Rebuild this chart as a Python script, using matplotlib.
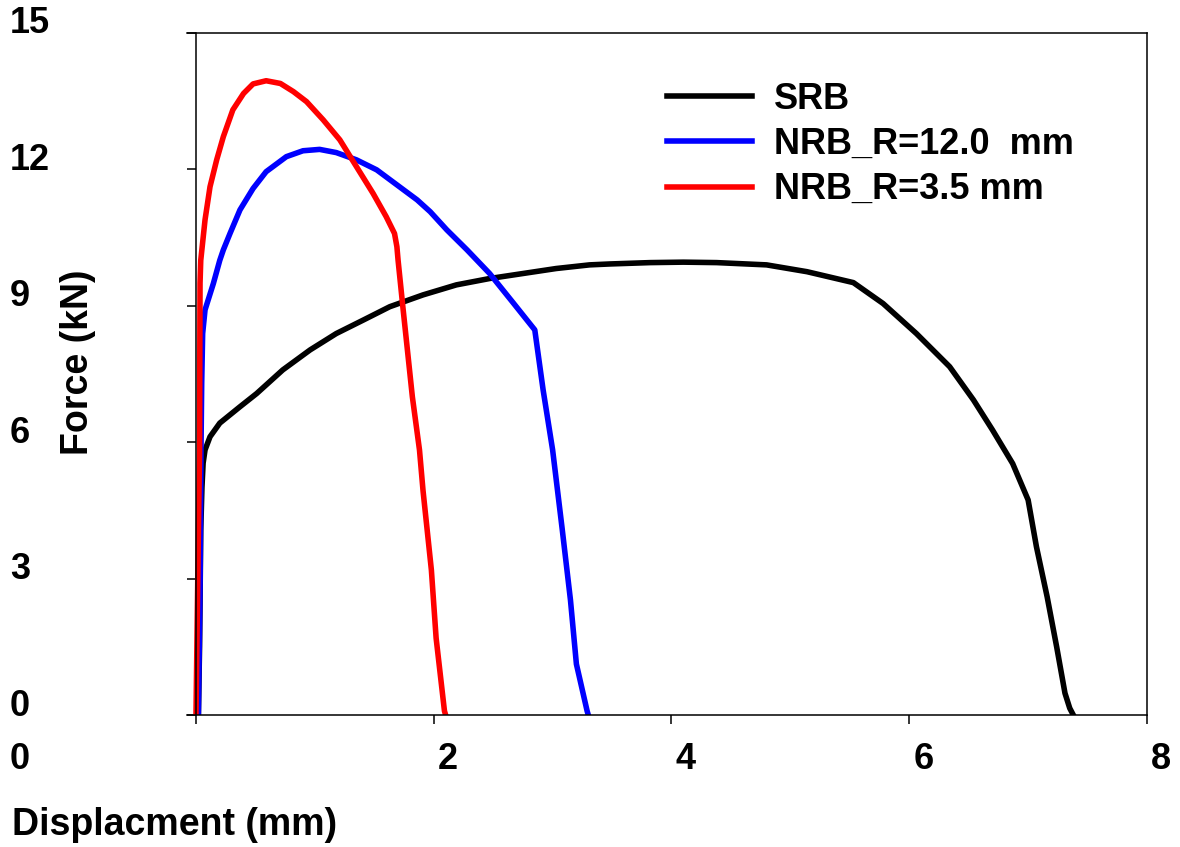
import matplotlib
matplotlib.use('Agg')
import matplotlib.pyplot as plt
import matplotlib.transforms as mtrans

plt.rcParams['font.family'] = ['Liberation Sans', 'DejaVu Sans']
plt.rcParams['font.weight'] = 'bold'

# SRB (smooth round bar)
srb_x = [0.02, 0.03, 0.04, 0.05, 0.06, 0.076, 0.118, 0.20, 0.37, 0.51, 0.73, 0.96, 1.18,
         1.41, 1.63, 1.91, 2.19, 2.47, 2.75, 3.03, 3.31, 3.48, 3.82, 4.10, 4.38, 4.80, 5.14,
         5.53, 5.78, 6.06, 6.34, 6.54, 6.70, 6.87, 7.0, 7.07, 7.16, 7.24, 7.31, 7.35, 7.38]
srb_y = [0.0, 1.5, 4.07, 5.0, 5.54, 5.83, 6.12, 6.42, 6.78, 7.07, 7.59, 8.03, 8.39,
         8.69, 8.98, 9.24, 9.46, 9.60, 9.71, 9.82, 9.90, 9.92, 9.95, 9.96, 9.95, 9.90, 9.75,
         9.51, 9.05, 8.39, 7.66, 6.93, 6.27, 5.53, 4.73, 3.70, 2.6, 1.5, 0.48, 0.15, 0.0]

# NRB R=12.0 mm
r12_x = [0.02, 0.035, 0.042, 0.048, 0.056, 0.076, 0.146, 0.20, 0.23, 0.286, 0.37, 0.48,
         0.59, 0.76, 0.90, 1.04, 1.18, 1.35, 1.52, 1.69, 1.86, 1.97, 2.11, 2.28, 2.47,
         2.67, 2.85, 2.92, 3.0, 3.08, 3.15, 3.20, 3.29, 3.30]
r12_y = [0.0, 3.0, 5.83, 7.3, 8.39, 8.91, 9.49, 10.0, 10.23, 10.59, 11.11, 11.58,
         11.95, 12.28, 12.41, 12.44, 12.37, 12.21, 11.99, 11.66, 11.33, 11.07, 10.67, 10.23, 9.71,
         9.06, 8.47, 7.15, 5.83, 4.1, 2.53, 1.12, 0.09, 0.0]

# NRB R=3.5 mm
r35_x = [0.0, 0.02, 0.03, 0.032, 0.034, 0.04, 0.076, 0.118, 0.174, 0.23, 0.31, 0.40,
         0.48, 0.59, 0.71, 0.82, 0.93, 1.07, 1.21, 1.35, 1.49, 1.60, 1.67, 1.69, 1.70,
         1.74, 1.82, 1.88, 1.91, 1.98, 2.02, 2.09, 2.10]
r35_y = [0.0, 4.0, 5.83, 8.0, 9.5, 10.0, 10.89, 11.62, 12.21, 12.72, 13.31, 13.67,
         13.88, 13.95, 13.89, 13.71, 13.49, 13.09, 12.65, 12.06, 11.47, 10.96, 10.59, 10.3, 10.0,
         8.98, 7.0, 5.83, 4.93, 3.19, 1.69, 0.09, 0.0]

labels = ['SRB', 'NRB_R=12.0  mm', 'NRB_R=3.5 mm']
colors = ['black', 'blue', 'red']

x_ticks = [0, 2, 4, 6, 8]
y_ticks = [0, 3, 6, 9, 12, 15]

fig = plt.figure(figsize=(11.8, 8.47), dpi=100)
ax = fig.add_axes([187/1180, 132/847, 960/1180, 682/847])

for xs, ys, c, lab in zip([srb_x, r12_x, r35_x], [srb_y, r12_y, r35_y], colors, labels):
    ax.plot(xs, ys, color=c, lw=4.0, label=lab, solid_joinstyle='round')

ax.set_xlim(-0.0757, 8)
ax.set_ylim(0, 15)
ax.spines['left'].set_position(('data', 0))
for s in ax.spines.values():
    s.set_linewidth(1.1)

ax.set_xticks(x_ticks)
ax.set_yticks(y_ticks)
ax.tick_params(direction='out', length=6.5, width=1.1, labelbottom=False, labelleft=False)

# tick labels placed the way the original software put them
for v in x_ticks:
    dx = -186 if v == 0 else 14
    tr = ax.get_xaxis_transform() + mtrans.ScaledTranslation(dx / 100, -44 / 100, fig.dpi_scale_trans)
    ax.text(v, 0, str(v), transform=tr, ha='center' if v else 'left', va='center',
            fontsize=26, fontweight='bold')
ytr = mtrans.blended_transform_factory(fig.transFigure, ax.transData)
for v in y_ticks:
    ax.text(0, v, str(v), transform=ytr + mtrans.ScaledTranslation(10 / 100, 9 / 100, fig.dpi_scale_trans),
            ha='left', va='center', fontsize=26, fontweight='bold')

fig.text(78/1180, 1 - 362/847, 'Force (kN)', rotation=90, ha='center', va='center',
         fontsize=27, fontweight='bold')
fig.text(12/1180, 1 - 825/847, 'Displacment (mm)', ha='left', va='center',
         fontsize=27, fontweight='bold')

leg = ax.legend(loc='upper left', bbox_to_anchor=(667/1180, 1 - 82/847),
                bbox_transform=fig.transFigure, frameon=False, borderpad=0,
                borderaxespad=0, handlelength=2.35, handletextpad=0.6,
                labelspacing=0.28, prop={'size': 26, 'weight': 'bold'})

fig.savefig('out.png', dpi=100)
